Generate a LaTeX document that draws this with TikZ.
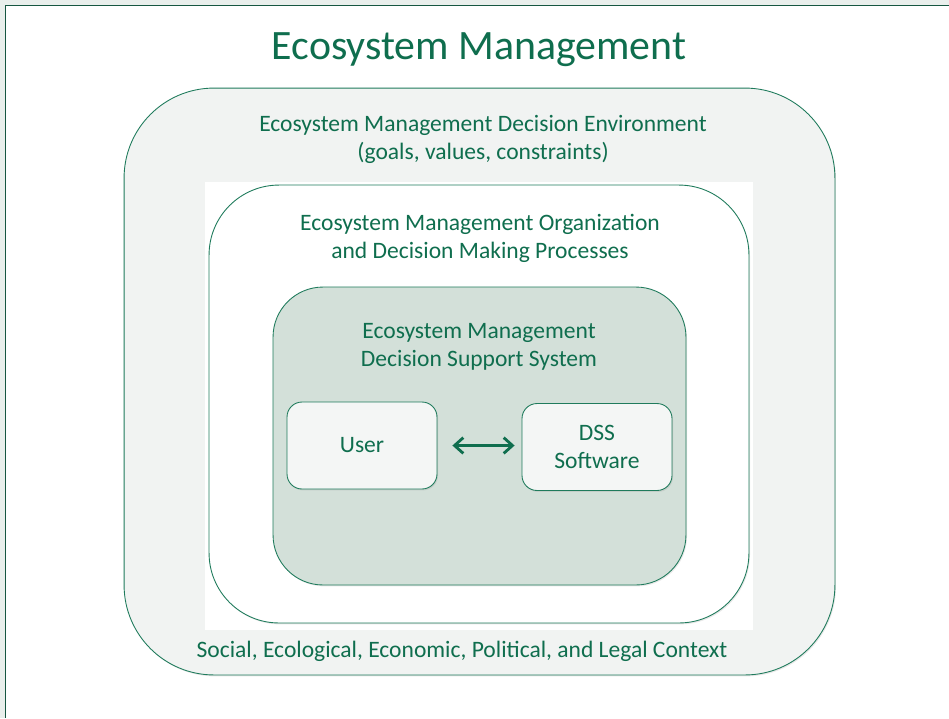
\documentclass[tikz,border=0pt]{standalone}
\usepackage{fontspec}
\setmainfont{Carlito}
\usetikzlibrary{arrows.meta,shadows}
\definecolor{ecogreen}{HTML}{0F6E4E}
\definecolor{ecoline}{HTML}{1F7B5C}
\definecolor{envfill}{HTML}{F1F3F2}
\definecolor{dssfill}{HTML}{D3E0D9}
\definecolor{boxfill}{HTML}{F4F6F5}
\definecolor{band}{HTML}{E9EFEC}

\begin{document}
\begin{tikzpicture}[x=0.02cm,y=-0.02cm,
		txt/.style={text=ecogreen,align=center,font=\fontsize{13.4}{15.9}\selectfont},
		panel/.style={draw=ecoline,line width=0.5pt,inner sep=0pt,
			drop shadow={opacity=0.18,shadow xshift=0.6pt,shadow yshift=-0.8pt}}]
	\useasboundingbox (0,0) rectangle (949,718);
	\fill[band] (0,0) rectangle (949,718);
	\fill[white] (5,5) rectangle (949,718);
	\draw[ecoline!70!black,line width=1pt] (949,5.5) -- (5.5,5.5) -- (5.5,718);
	\node[txt,font=\fontsize{23.8}{28}\selectfont] (title) at (479,50) {Ecosystem Management};
	\node[panel,fill=envfill,rounded corners=1.8cm,minimum width=14.22cm,minimum height=11.74cm] (env) at (479.5,381.5) {};
	\fill[white] (205,182) rectangle (753,630);
	\node[panel,fill=white,rounded corners=1.4cm,minimum width=10.8cm,minimum height=8.76cm] (org) at (479,404) {};
	\node[panel,fill=dssfill,rounded corners=1.0cm,minimum width=8.26cm,minimum height=5.96cm] (dss) at (479.5,436) {};
	\node[txt] (envlabel) at (483,139.5) {Ecosystem Management Decision Environment\\(goals, values, constraints)};
	\node[txt] (orglabel) at (480,238) {Ecosystem Management Organization\\and Decision Making Processes};
	\node[txt] (dsslabel) at (479,347) {Ecosystem Management\\Decision Support System};
	\node[txt] (context) at (462,651) {Social, Ecological, Economic, Political, and Legal Context};
	\node[panel,txt,fill=boxfill,rounded corners=0.3cm,minimum width=3cm,minimum height=1.74cm] (user) at (362,445.5) {\raisebox{-1.5pt}{User}};
	\node[panel,txt,fill=boxfill,rounded corners=0.3cm,minimum width=3cm,minimum height=1.74cm] (soft) at (597,447) {DSS\\Software};
	\draw[{Straight Barb[length=5pt,width=9pt,line width=1.6pt]}-{Straight Barb[length=5pt,width=9pt,line width=1.6pt]},
		ecogreen,line width=1.8pt,shorten <=0.3cm,shorten >=0.14cm] (user) -- (user -| soft.west);
\end{tikzpicture}
\end{document}
